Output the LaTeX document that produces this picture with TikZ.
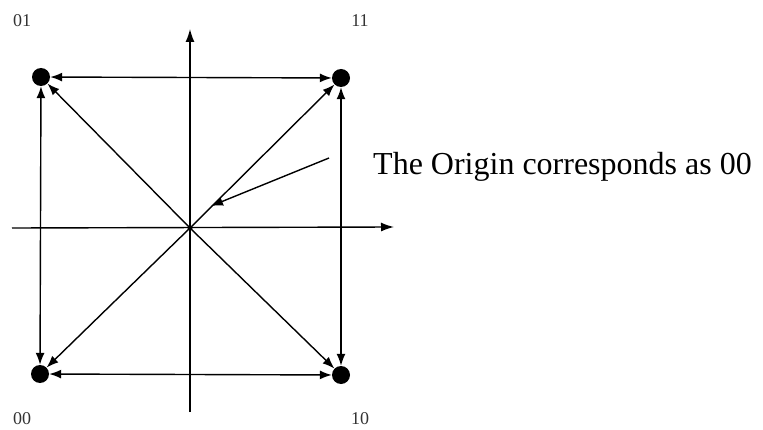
\documentclass[tikz,border=0pt]{standalone}
\usepackage{fontspec}
\setmainfont{Liberation Serif}
\usetikzlibrary{arrows.meta}
\begin{document}
\begin{tikzpicture}[x=1pt,y=1pt,
  dot/.style={circle,fill=black,inner sep=0pt,minimum size=18pt},
  lbl/.style={font=\fontsize{18}{18}\selectfont,text=black!80},
  arr/.style={line width=1.4pt,-{Latex[length=12pt,width=9pt]}},
  darr/.style={line width=1.4pt,{Latex[length=12pt,width=9pt]}-{Latex[length=12pt,width=9pt]}},
  axis/.style={line width=1.4pt}]
\useasboundingbox (0,0) rectangle (763,429);
\fill[white] (0,0) rectangle (763,429);
\coordinate (O) at (190,201);
\coordinate (xl) at (12,201);
\coordinate (xr) at (394,202);
\coordinate (yb) at (190,17);
\coordinate (yt) at (190,400);
\node[dot] (n01) at (41,352) {};
\node[dot] (n11) at (341,351) {};
\node[dot] (n00) at (40,55) {};
\node[dot] (n10) at (341,54) {};
\node[lbl] (l01) at (22,408) {01};
\node[lbl] (l11) at (360,408) {11};
\node[lbl] (l00) at (22,10) {00};
\node[lbl] (l10) at (360,10) {10};
\draw[axis,-{Latex[length=13pt,width=9pt]}] (xl) -- (xr);
\draw[axis,-{Latex[length=13pt,width=9pt]}] (yb) -- (yt);
\draw[darr] (n01) -- (n11);
\draw[darr] (n00) -- (n10);
\draw[darr] (n01) -- (n00);
\draw[darr] (n11) -- (n10);
\draw[arr] (O) -- (n01);
\draw[arr] (O) -- (n11);
\draw[arr] (O) -- (n00);
\draw[arr] (O) -- (n10);
\fill (O) circle (2.5pt);
\node[font=\fontsize{32}{32}\selectfont,anchor=base west,inner sep=0pt] (txt) at (373,254) {The Origin corresponds as 00};
\coordinate (ps) at (329,271);
\coordinate (pe) at (211,223);
\draw[arr] (ps) -- (pe);
\end{tikzpicture}
\end{document}
